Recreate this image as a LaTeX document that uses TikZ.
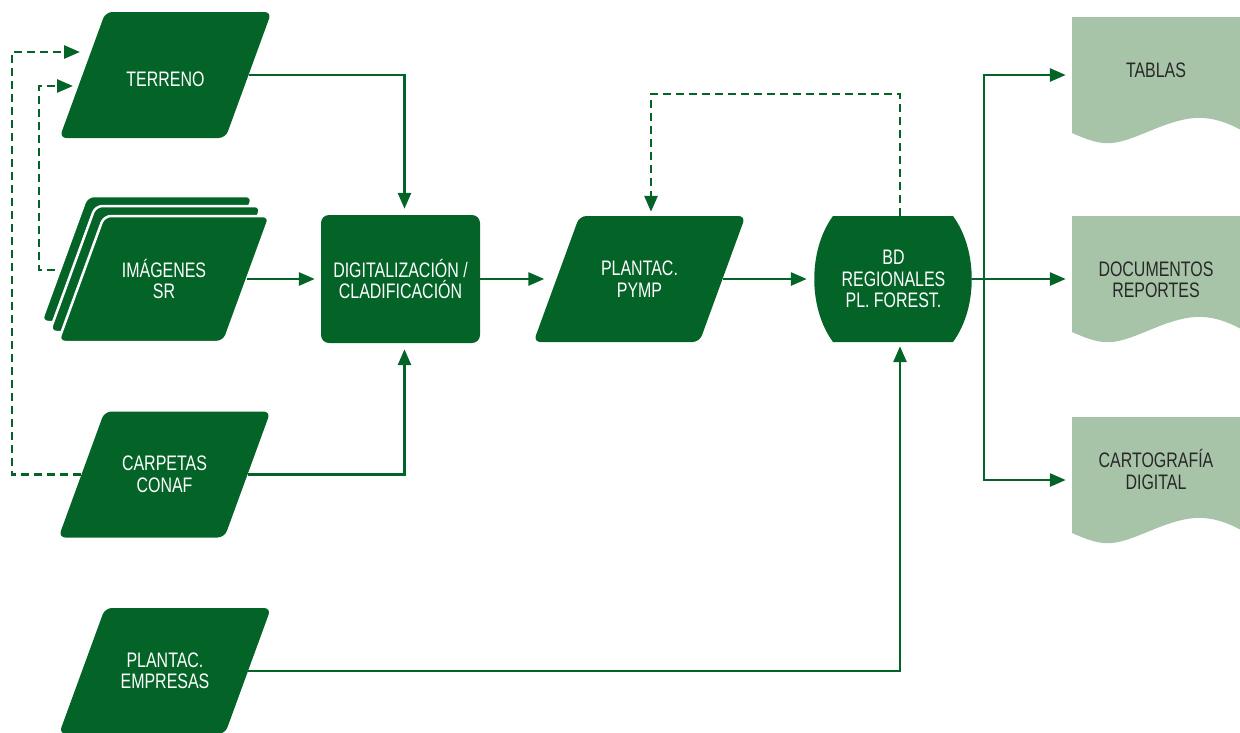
\documentclass[tikz,border=0pt]{standalone}
\usepackage{fontspec}
\setmainfont{Liberation Sans}[FakeStretch=0.76]
\usetikzlibrary{arrows.meta,calc}
\definecolor{dg}{RGB}{4,100,40}
\definecolor{lg}{RGB}{168,196,168}
\definecolor{dt}{RGB}{40,40,40}
% parallelogram: name, cx, cy, text, extra fill options
\newcommand\parall[5]{%
  \filldraw[fill=dg, rounded corners=7pt, #5]
    (#2-60,#3-63) -- (#2+106,#3-63) -- (#2+60,#3+63) -- (#2-106,#3+63) -- cycle;
  \node[parn] (#1) at (#2,#3) {#4};}
\begin{document}
\begin{tikzpicture}[x=1pt,y=-1pt,
  txt/.style={font=\fontsize{21}{21.5}\selectfont, align=center, inner sep=0pt},
  parn/.style={txt, text=white, minimum width=166pt, minimum height=126pt},
  arr/.style={draw=dg, line width=2.8pt, -{Triangle[length=16pt,width=13pt]}, shorten >=6pt},
  dsh/.style={arr, dash pattern=on 8pt off 5pt},
  ln/.style={draw=dg, line width=2.8pt},
  docn/.style={txt, text=dt, minimum width=168pt}]
\useasboundingbox (0,0) rectangle (1240,732);

% input parallelograms
\parall{terr}{165.5}{75}{\raisebox{-11pt}[0pt][0pt]{TERRENO}}{draw=none}
\parall{img3}{147}{259}{}{draw=white, line width=2.5pt}
\parall{img2}{155.5}{269}{}{draw=white, line width=2.5pt}
\parall{img}{164}{279}{IMÁGENES\\SR}{draw=white, line width=2.5pt}
\parall{carp}{164.5}{474.5}{CARPETAS\\CONAF}{draw=none}
\parall{emp}{165}{671}{PLANTAC.\\EMPRESAS}{draw=none}

% process box
\node[txt, text=white, fill=dg, rounded corners=8pt, minimum width=159pt, minimum height=128pt] (dig) at (400.5,279) {DIGITALIZACIÓN /\\CLADIFICACIÓN};

% PYMP
\parall{pymp}{639.5}{279}{PLANTAC.\\PYMP}{draw=none}

% BD stored data shape
\fill[dg] (833,216) -- (953,216) .. controls (978,250) and (978,308) .. (953,342)
  -- (833,342) .. controls (808,308) and (808,250) .. (833,216) -- cycle;
\node[txt, text=white, minimum width=157pt, minimum height=126pt] (bd) at (893.5,279) {BD\\REGIONALES\\PL. FOREST.};

% documents
\foreach \d in {0,199,400}{
  \fill[lg] (1072,17+\d) -- (1245,17+\d) -- (1245,132+\d)
    .. controls (1230,124+\d) and (1215,117+\d) .. (1195,118+\d)
    .. controls (1165,120+\d) and (1135,141+\d) .. (1112,143+\d)
    .. controls (1100,144+\d) and (1090,141+\d) .. (1072,133+\d) -- cycle;
}
\node[docn] (tab) at (1156,70) {TABLAS};
\node[docn] (doc) at (1156,280) {DOCUMENTOS\\REPORTES};
\node[docn] (car) at (1156,469.5) {CARTOGRAFÍA\\DIGITAL};

% routing coordinates
\coordinate (sp) at (984,279);
\coordinate (lp) at (651,94);
\coordinate (o1) at (12,52);
\coordinate (o2) at (80,52);
\coordinate (i0) at (55,270);
\coordinate (i1) at (39,86);
\coordinate (i2) at (73,86);

% connectors
\draw[arr] (terr.east) -| ([xshift=4pt]dig.north);
\draw[arr] (img.east) -- (dig.west);
\draw[arr] (carp.east) -| ([xshift=4pt]dig.south);
\draw[arr, shorten >=12pt] (dig.east) -- (pymp.west);
\draw[arr, shorten >=8pt] (pymp.east) -- (bd.west);
\draw[arr, shorten >=4pt] (emp.east) -| ([xshift=6.5pt]bd.south);
\draw[dsh, shorten >=4pt] ([xshift=6.5pt]bd.north) |- (lp) -- (lp |- pymp.north);
\draw[ln] (bd.east) -- (sp);
\draw[arr] (sp) |- ([yshift=-5pt]tab.west);
\draw[arr] (sp) -- (sp -| doc.west);
\draw[arr] (sp) |- ([yshift=-10.5pt]car.west);
\draw[dsh, shorten >=0pt] (carp.west) -| (o1) -- (o2);
\draw[dsh, shorten >=0pt] (i0) -| (i1) -- (i2);
\end{tikzpicture}
\end{document}
